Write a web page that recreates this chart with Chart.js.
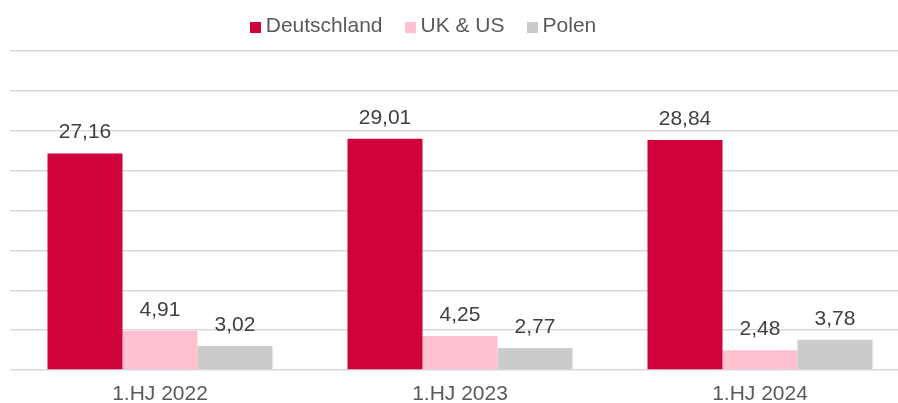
<!DOCTYPE html>
<html>
<head>
<meta charset="utf-8">
<script src="https://cdn.jsdelivr.net/npm/chart.js@4.4.1/dist/chart.umd.min.js"></script>
<style>
  html, body { margin:0; padding:0; background:#fff; overflow:hidden; width:898px; height:403px; }
  #wrap { position:relative; width:898px; height:403px; }
  #chart { position:absolute; left:0; top:0; }
  #legend {
    position:absolute; left:0; top:12px; width:846px; text-align:center;
    font-family:"Liberation Sans", Arial, sans-serif; font-size:21px; line-height:25px; color:#595959;
    white-space:nowrap;
  }
  .lg-item { display:inline-block; margin:0 11px; }
  .lg-box { display:inline-block; width:11px; height:11px; margin-right:5px; vertical-align:-1px; }
</style>
</head>
<body>
<div id="wrap">
  <canvas id="chart" width="910" height="403"></canvas>
  <div id="legend"></div>
</div>
<script>
// ---- data ----
const categories   = ['1.HJ 2022', '1.HJ 2023', '1.HJ 2024'];
const seriesNames  = ['Deutschland', 'UK & US', 'Polen'];
const deutschland  = [27.16, 29.01, 28.84];
const ukUs         = [4.91, 4.25, 2.48];
const polen        = [3.02, 2.77, 3.78];
const seriesColors = ['#cf023c', '#ffc1d0', '#cbcbcb'];

const FONT = '"Liberation Sans", Arial, sans-serif';

// value labels above each bar (German decimal comma)
const barLabels = {
  id: 'barLabels',
  afterDatasetsDraw(chart) {
    const ctx = chart.ctx;
    ctx.save();
    ctx.font = '21px ' + FONT;
    ctx.fillStyle = '#404040';
    ctx.textAlign = 'center';
    ctx.textBaseline = 'alphabetic';
    chart.data.datasets.forEach((ds, i) => {
      chart.getDatasetMeta(i).data.forEach((bar, j) => {
        const txt = ds.data[j].toFixed(2).replace('.', ',');
        ctx.fillText(txt, bar.x, bar.y - 15);
      });
    });
    ctx.restore();
  }
};

const chart = new Chart(document.getElementById('chart'), {
  type: 'bar',
  data: {
    labels: categories,
    datasets: [deutschland, ukUs, polen].map((d, i) => ({
      label: seriesNames[i],
      data: d,
      backgroundColor: seriesColors[i],
      borderWidth: 0,
      categoryPercentage: 0.75,
      barPercentage: 1.0,
    }))
  },
  options: {
    responsive: false,
    animation: false,
    layout: { padding: { top: 51, left: 10, right: 0, bottom: 0 } },
    plugins: { legend: { display: false }, tooltip: { enabled: false } },
    scales: {
      x: {
        grid: { display: false, drawTicks: false },
        border: { display: false },
        ticks: { color: '#595959', font: { family: FONT, size: 21 }, padding: 12 },
        afterFit: s => { s.height = 33; }
      },
      y: {
        min: 0, max: 40,
        ticks: { display: false, stepSize: 5 },
        border: { display: false },
        grid: { color: '#d9d9d9', lineWidth: 1.5, drawTicks: false },
        afterFit: s => { s.width = 0; }
      }
    }
  },
  plugins: [barLabels]
});

// html legend built from the series
document.getElementById('legend').innerHTML = seriesNames.map((n, i) =>
  `<span class="lg-item"><span class="lg-box" style="background:${seriesColors[i]}"></span>${n}</span>`
).join('');
</script>
</body>
</html>
